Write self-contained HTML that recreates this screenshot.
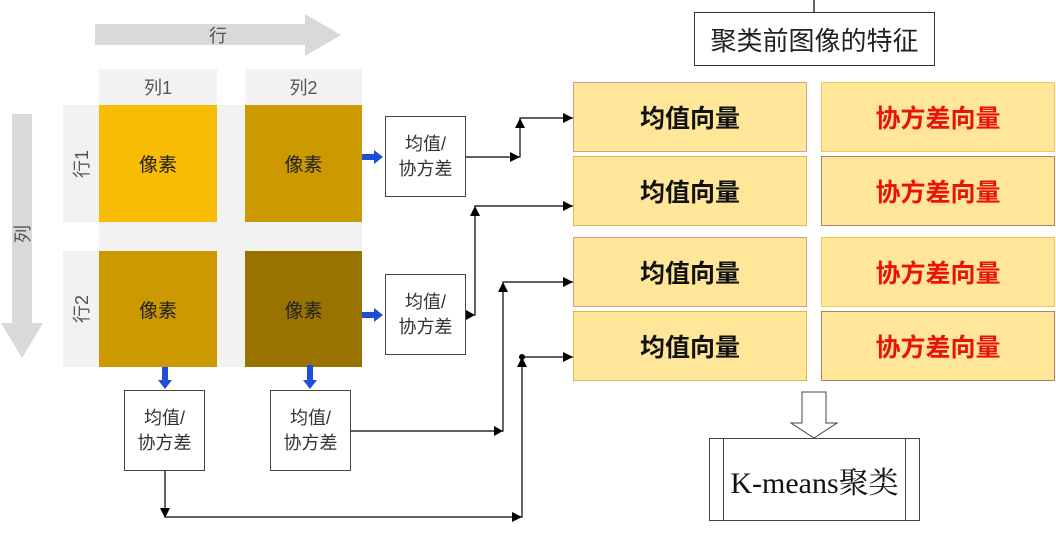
<!DOCTYPE html>
<html><head><meta charset="utf-8"><style>
body{margin:0;background:#fff;}
.w{position:relative;width:1056px;height:533px;overflow:hidden;font-family:"Liberation Sans","Noto Sans CJK SC",sans-serif;}
.a{position:absolute;box-sizing:border-box;display:flex;align-items:center;justify-content:center;text-align:center;}
.px{font-size:19px;color:#222;}
.bx{border:1px solid #444;background:#fff;font-size:18px;line-height:25px;color:#333;}
.m{background:#FFE699;font-size:25px;font-weight:bold;color:#111;}
.c{background:#FFE699;font-size:25px;font-weight:bold;color:#e8140c;}
</style></head><body><div class="w">
<svg width="1056" height="533" style="position:absolute;left:0;top:0">
<polygon points="95,24 305,24 305,14 341,35 305,56 305,45 95,45" fill="#d9d9d9"/>
<polygon points="12,114 32,114 32,323 43,323 22,358 1,323 12,323" fill="#d9d9d9"/>
<rect x="99" y="69" width="118" height="36" fill="#f2f2f2"/>
<rect x="245" y="69" width="117" height="36" fill="#f2f2f2"/>
<rect x="63" y="105" width="299" height="117" fill="#f2f2f2"/>
<rect x="63" y="251" width="299" height="116" fill="#f2f2f2"/>
<rect x="99" y="222" width="263" height="29" fill="#f2f2f2"/>
<rect x="99" y="105" width="118" height="117" fill="#F8BC05"/>
<rect x="245" y="105" width="117" height="117" fill="#CC9900"/>
<rect x="99" y="251" width="118" height="116" fill="#CC9900"/>
<rect x="245" y="251" width="117" height="116" fill="#997300"/>
<g fill="#1c4fd6">
<polygon points="362,154 374,154 374,150 383,157 374,164 374,160 362,160"/>
<polygon points="362,312 374,312 374,308 383,315 374,322 374,318 362,318"/>
<polygon points="162,367 168,367 168,380 172,380 165,389 158,380 162,380"/>
<polygon points="307,365 313,365 313,380 317,380 310,389 303,380 307,380"/>
</g>
<g stroke="#000" stroke-width="1.2" fill="none">
<path d="M466,157 H520 V118 H573"/>
<path d="M466,315 H475 V206 H573"/>
<path d="M350,431 H503 V282 H573"/>
<path d="M165,471 V517 H522 V357 H573"/>
<path d="M814,0 V12"/>
</g>
<g fill="#000">
<polygon points="510,152 520,157 510,162"/><polygon points="515,128 520,118 525,128"/><polygon points="563,113 573,118 563,123"/>
<polygon points="466,310 475,315 466,320"/><polygon points="470,216 475,206 480,216"/><polygon points="563,201 573,206 563,211"/>
<polygon points="494,426 503,431 494,436"/><polygon points="498,292 503,282 508,292"/><polygon points="563,277 573,282 563,287"/>
<polygon points="160,508 165,518 170,508"/><polygon points="512,512 522,517 512,522"/><polygon points="517,367 522,357 527,367"/><circle cx="522" cy="357" r="3"/><polygon points="563,352 573,357 563,362"/>
</g>
<polygon points="802,392 802,423 791,423 814,438 837,423 826,423 826,392" fill="#fff" stroke="#444" stroke-width="1"/>
<rect x="709.5" y="438.5" width="210" height="82" fill="#fff" stroke="#444"/>
<line x1="723.5" y1="438" x2="723.5" y2="521" stroke="#444"/>
<line x1="905.5" y1="438" x2="905.5" y2="521" stroke="#444"/>
</svg>
<div class="a" style="left:203px;top:21px;width:30px;height:28px;font-size:18px;color:#555">行</div>
<div class="a" style="left:7px;top:220px;width:30px;height:28px;font-size:18px;color:#555;transform:rotate(-90deg)">列</div>
<div class="a" style="left:99px;top:69px;width:118px;height:36px;font-size:18px;color:#555">列1</div>
<div class="a" style="left:245px;top:69px;width:117px;height:36px;font-size:18px;color:#555">列2</div>
<div class="a" style="left:63px;top:150px;width:36px;height:28px;font-size:18px;color:#555;transform:rotate(-90deg)">行1</div>
<div class="a" style="left:63px;top:295px;width:36px;height:28px;font-size:18px;color:#555;transform:rotate(-90deg)">行2</div>
<div class="a px" style="left:99px;top:105px;width:118px;height:117px">像素</div>
<div class="a px" style="left:245px;top:105px;width:117px;height:117px">像素</div>
<div class="a px" style="left:99px;top:251px;width:118px;height:116px">像素</div>
<div class="a px" style="left:245px;top:251px;width:117px;height:116px">像素</div>
<div class="a bx" style="left:385px;top:116px;width:81px;height:81px">均值/<br>协方差</div>
<div class="a bx" style="left:385px;top:274px;width:81px;height:81px">均值/<br>协方差</div>
<div class="a bx" style="left:124px;top:390px;width:81px;height:81px">均值/<br>协方差</div>
<div class="a bx" style="left:270px;top:390px;width:81px;height:81px">均值/<br>协方差</div>
<div class="a" style="left:694px;top:12px;width:241px;height:54px;border:1px solid #333;font-size:26px;color:#222">聚类前图像的特征</div>
<div class="a m" style="left:573px;top:82px;width:234px;height:70px;border:1px solid #d99a8a">均值向量</div>
<div class="a m" style="left:573px;top:156px;width:234px;height:70px;border:1px solid #e0b850">均值向量</div>
<div class="a m" style="left:573px;top:237px;width:234px;height:70px;border:1px solid #d99a8a">均值向量</div>
<div class="a m" style="left:573px;top:311px;width:234px;height:70px;border:1px solid #e0b850">均值向量</div>
<div class="a c" style="left:821px;top:82px;width:234px;height:70px;border:1px solid #f0c850">协方差向量</div>
<div class="a c" style="left:821px;top:156px;width:234px;height:70px;border:1px solid #b08060">协方差向量</div>
<div class="a c" style="left:821px;top:237px;width:234px;height:70px;border:1px solid #f0c850">协方差向量</div>
<div class="a c" style="left:821px;top:311px;width:234px;height:70px;border:1px solid #b08060">协方差向量</div>
<div class="a" style="left:724px;top:439px;width:181px;height:81px;font-family:'Liberation Serif','Noto Serif CJK SC',serif;font-size:30px;color:#111">K-means聚类</div>
</div></body></html>
